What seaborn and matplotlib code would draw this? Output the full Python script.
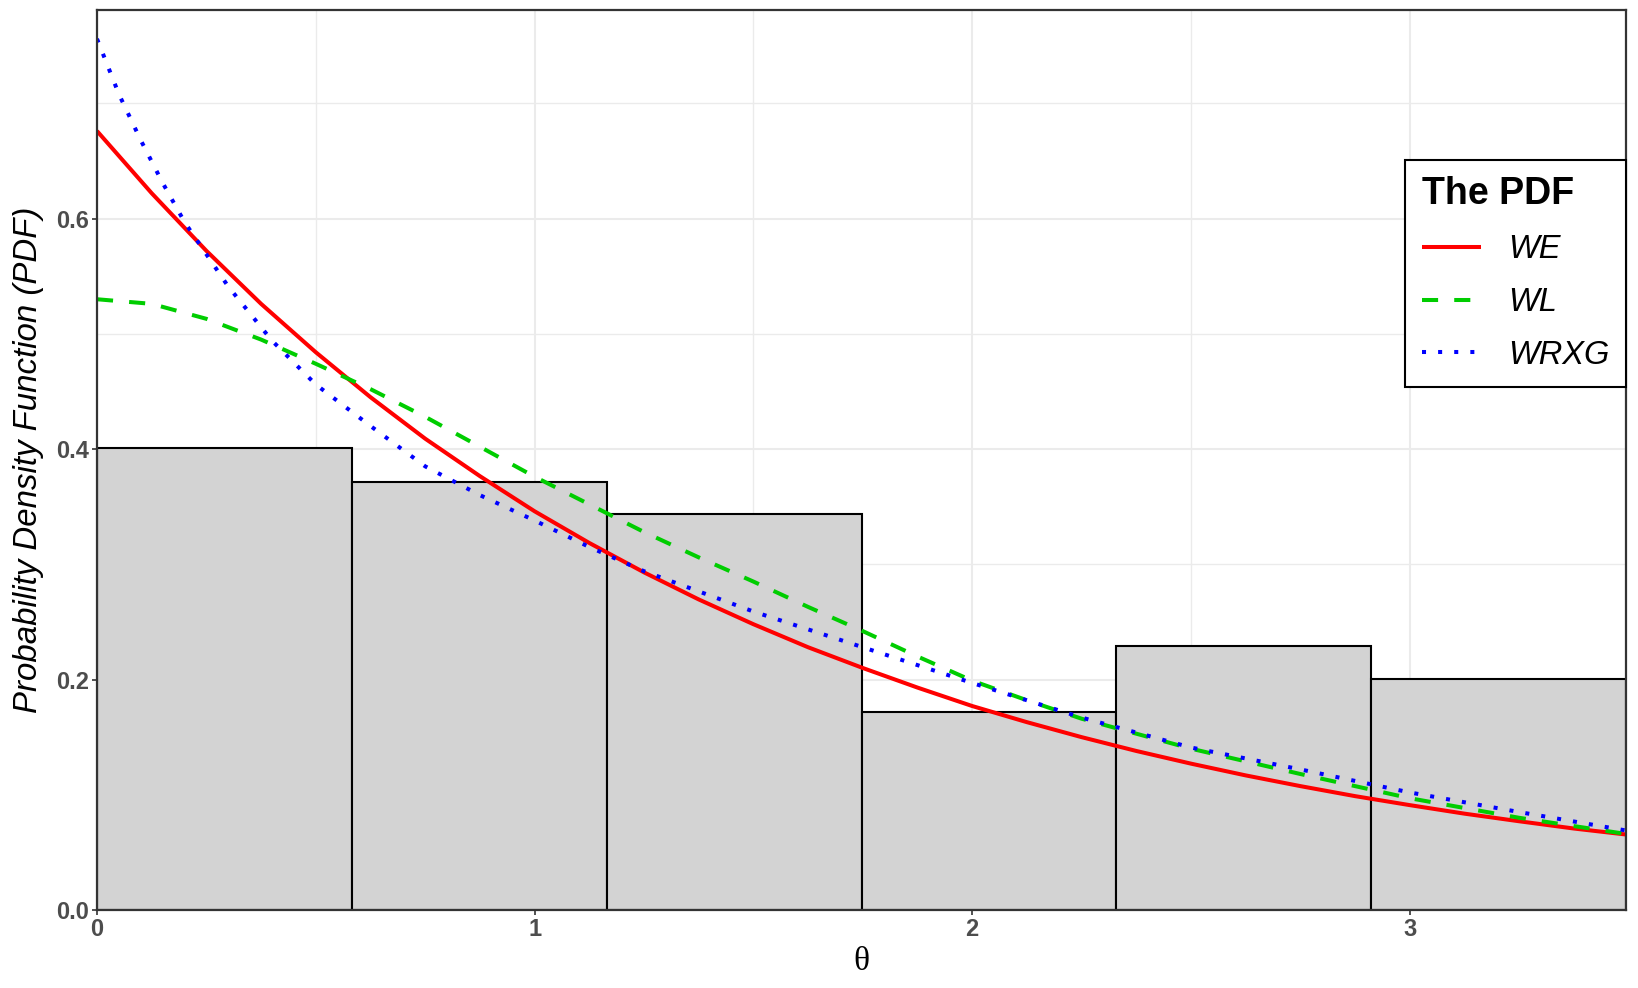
import numpy as np
import pandas as pd
import matplotlib
matplotlib.use("Agg")
import matplotlib.pyplot as plt
from matplotlib.ticker import MultipleLocator, FixedLocator
import seaborn as sns

# ---------------- data ----------------
bin_edges = [0.0, 0.582, 1.165, 1.747, 2.329, 2.912, 3.494]
bin_counts = [14, 13, 12, 6, 8, 7]

we_x = [0.0, 0.125, 0.25, 0.375, 0.5, 0.625, 0.75, 0.875, 1.0, 1.125, 1.25, 1.375, 1.5,
        1.625, 1.75, 1.875, 2.0, 2.125, 2.25, 2.375, 2.5, 2.625, 2.75, 2.875, 3.0,
        3.125, 3.25, 3.375, 3.494]
we_y = [0.676, 0.622, 0.572, 0.526, 0.484, 0.445, 0.409, 0.3765, 0.346, 0.3185, 0.293,
        0.2695, 0.248, 0.228, 0.210, 0.193, 0.177, 0.163, 0.150, 0.138, 0.127, 0.1168,
        0.1075, 0.0988, 0.091, 0.0836, 0.077, 0.0707, 0.0655]

wl_x = [0.0, 0.125, 0.25, 0.375, 0.5, 0.625, 0.75, 0.875, 1.0, 1.125, 1.25, 1.375, 1.5,
        1.625, 1.75, 1.875, 2.0, 2.125, 2.25, 2.5, 2.75, 3.0, 3.25, 3.494]
wl_y = [0.530, 0.526, 0.513, 0.495, 0.474, 0.452, 0.428, 0.402, 0.376, 0.352, 0.328,
        0.306, 0.285, 0.263, 0.242, 0.220, 0.199, 0.182, 0.166, 0.140, 0.118, 0.097,
        0.080, 0.066]

wrxg_x = [0.0, 0.05, 0.1, 0.15, 0.2, 0.3, 0.4, 0.5, 0.625, 0.75, 0.875, 1.0, 1.125,
          1.25, 1.5, 1.75, 2.0, 2.25, 2.5, 2.75, 3.0, 3.25, 3.494]
wrxg_y = [0.756, 0.708, 0.668, 0.631, 0.597, 0.541, 0.494, 0.456, 0.420, 0.385, 0.360,
          0.338, 0.315, 0.294, 0.259, 0.228, 0.197, 0.167, 0.141, 0.122, 0.102, 0.085,
          0.069]

series_names = ["WE", "WL", "WRXG"]
x_ticks = [0, 1, 2, 3]
y_ticks = [0.0, 0.2, 0.4, 0.6]
x_label = "θ"
y_label = "Probability Density Function (PDF)"
legend_title = "The PDF"

# ---------------- style ----------------
sns.set_theme(style="white")
plt.rcParams["font.family"] = ["Liberation Sans", "DejaVu Sans"]
plt.rcParams["text.color"] = "black"
plt.rcParams["axes.labelcolor"] = "black"

fig = plt.figure(figsize=(16.38, 9.88), dpi=100)
ax = fig.add_axes([97 / 1638, 1 - 910 / 988, (1626 - 97) / 1638, (910 - 10) / 988])

# histogram (density)
centers = [(a + b) / 2 for a, b in zip(bin_edges[:-1], bin_edges[1:])]
sns.histplot(x=centers, weights=bin_counts, bins=bin_edges, stat="density",
             color="#D3D3D3", edgecolor="black", linewidth=1.5, alpha=1.0,
             ax=ax, zorder=2)

# curves
curves = [
    (we_x, we_y, series_names[0], "#FF0000", "-"),
    (wl_x, wl_y, series_names[1], "#00CD00", (0, (4, 4))),
    (wrxg_x, wrxg_y, series_names[2], "#0000FF", (0, (1, 3))),
]
for xs, ys, name, col, ls in curves:
    df = pd.DataFrame({"x": xs, "y": ys})
    sns.lineplot(data=df, x="x", y="y", color=col, linestyle=ls, linewidth=2.9,
                 label=name, ax=ax, zorder=3, dash_capstyle="butt",
                 solid_capstyle="butt", solid_joinstyle="round")

ax.set_xlim(bin_edges[0], bin_edges[-1])
ax.set_ylim(0, 0.781)

ax.xaxis.set_major_locator(FixedLocator(x_ticks))
ax.yaxis.set_major_locator(FixedLocator(y_ticks))
ax.xaxis.set_minor_locator(MultipleLocator(0.5))
ax.yaxis.set_minor_locator(MultipleLocator(0.1))
ax.set_xticklabels([str(t) for t in x_ticks])
ax.set_yticklabels([f"{t:.1f}" for t in y_ticks])

ax.set_axisbelow(True)
ax.grid(True, which="major", color="#EBEBEB", linewidth=1.5)
ax.grid(True, which="minor", color="#EBEBEB", linewidth=1.0)

for sp in ax.spines.values():
    sp.set_color("#333333")
    sp.set_linewidth(1.6)
    sp.set_zorder(5)

ax.tick_params(which="major", length=3.5, width=1.2, color="#333333",
               labelsize=17, labelcolor="#4D4D4D", pad=2,
               bottom=True, left=True)
ax.tick_params(which="minor", length=0)
for lab in ax.get_xticklabels() + ax.get_yticklabels():
    lab.set_fontweight("bold")

ax.set_xlabel(x_label, fontsize=24, family=["Liberation Serif", "DejaVu Serif"],
              labelpad=4, color="black")
ax.set_ylabel(y_label, fontsize=23.8, fontstyle="italic", labelpad=9, color="black")

handles, labels = ax.get_legend_handles_labels()
leg = ax.legend(handles, labels, title=legend_title, loc="upper right",
                bbox_to_anchor=(1.0, 1 - 150 / 900), frameon=True, fancybox=False,
                framealpha=1, edgecolor="black", fontsize=23.5,
                title_fontproperties={"weight": "bold", "size": 27},
                handlelength=1.8, handletextpad=0.85, labelspacing=0.67,
                borderpad=0.5, alignment="left", borderaxespad=0,
                labelcolor="black")
leg.get_frame().set_linewidth(1.5)
leg.get_title().set_color("black")
for t in leg.get_texts():
    t.set_fontstyle("italic")

fig.savefig("out.png", dpi=100)
